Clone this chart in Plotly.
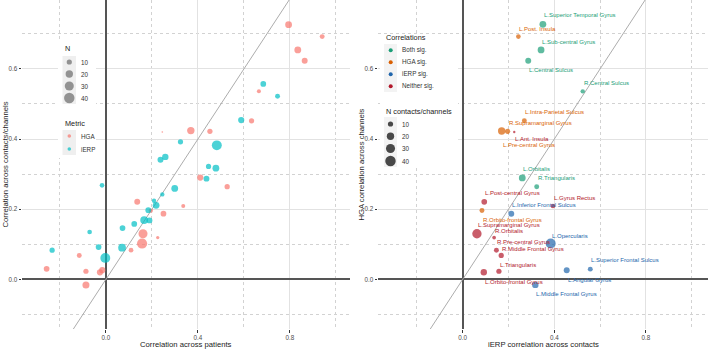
import numpy as np
import plotly.graph_objects as go

# ---------------- Data ----------------
# Left panel: correlation across patients (x) vs across contacts/channels (y)
hga_patients = [0.794, 0.94, 0.834, 0.864, 0.665, 0.633, 0.245, 0.369, 0.452, 0.41, 0.527, 0.136, 0.336,
                0.25, 0.195, 0.161, 0.157, 0.225, 0.109, -0.116, -0.258, -0.087, -0.026, -0.016, -0.087]
hga_contacts = [0.726, 0.692, 0.654, 0.623, 0.536, 0.452, 0.42, 0.424, 0.422, 0.29, 0.264, 0.221, 0.209,
                0.187, 0.196, 0.13, 0.102, 0.119, 0.083, 0.068, 0.03, 0.023, 0.02, 0.026, -0.016]
hga_n = [17, 9, 17, 13, 6, 10, 1, 20, 10, 14, 10, 13, 6, 12, 7, 30, 38, 4, 8, 9, 12, 10, 14, 14, 18]

ierp_patients = [0.684, 0.746, 0.588, 0.324, 0.482, 0.237, 0.258, 0.446, 0.478, 0.437, -0.017, 0.299, 0.245,
                 0.209, 0.218, 0.184, 0.166, 0.189, 0.123, 0.072, -0.071, 0.07, -0.032, -0.234, -0.003]
ierp_contacts = [0.557, 0.522, 0.454, 0.392, 0.382, 0.341, 0.349, 0.322, 0.317, 0.287, 0.268, 0.259, 0.242,
                 0.224, 0.211, 0.197, 0.169, 0.168, 0.158, 0.146, 0.135, 0.09, 0.092, 0.083, 0.061]
ierp_n = [12, 9, 14, 10, 36, 13, 15, 10, 17, 13, 8, 17, 7, 7, 17, 12, 22, 13, 12, 12, 8, 22, 12, 10, 36]

# Right panel: per region
regions = ["L.Superior Temporal Gyrus", "L.Post. Insula", "L.Sub-central Gyrus", "L.Central Sulcus",
           "R.Central Sulcus", "L.Intra-Parietal Sulcus", "R.Supramarginal Gyrus", "L.Pre-central Gyrus",
           "L.Ant. Insula", "L.Orbitalis", "R.Triangularis", "L.Post-central Gyrus", "R.Orbito-frontal Gyrus",
           "L.Gyrus Rectus", "L.Inferior Frontal Sulcus", "L.Supramarginal Gyrus", "R.Orbitalis",
           "L.Opercularis", "R.Pre-central Gyrus", "R.Middle Frontal Gyrus", "L.Triangularis",
           "L.Orbito-frontal Gyrus", "L.Angular Gyrus", "L.Superior Frontal Sulcus", "L.Middle Frontal Gyrus"]
region_ierp = [0.350, 0.243, 0.342, 0.286, 0.524, 0.269, 0.196, 0.170, 0.225, 0.260, 0.323, 0.094, 0.084,
               0.394, 0.212, 0.062, 0.137, 0.384, 0.147, 0.168, 0.158, 0.092, 0.454, 0.557, 0.317]
region_hga = [0.727, 0.692, 0.654, 0.623, 0.536, 0.452, 0.422, 0.423, 0.420, 0.289, 0.264, 0.221, 0.196,
              0.209, 0.187, 0.130, 0.119, 0.102, 0.083, 0.068, 0.023, 0.020, 0.026, 0.029, -0.016]
region_n = [17, 8, 17, 13, 7, 9, 10, 20, 2, 17, 9, 12, 9, 8, 13, 32, 5, 37, 9, 10, 10, 15, 13, 9, 15]
region_sig = ["Both sig.", "HGA sig.", "Both sig.", "Both sig.", "Both sig.", "HGA sig.", "HGA sig.",
              "HGA sig.", "Neither sig.", "Both sig.", "Both sig.", "Neither sig.", "HGA sig.",
              "Neither sig.", "iERP sig.", "Neither sig.", "Neither sig.", "iERP sig.", "Neither sig.",
              "Neither sig.", "Neither sig.", "Neither sig.", "iERP sig.", "iERP sig.", "iERP sig."]
# vertical label offsets (px, positive = below point)
label_offset = [-9, -8, -8, 9.4, -8, -8.3, -8.7, 14.4, 7, -8.7, -8.7, -8.7, 9.3, -8.3, -8.3, -8.4, -6.4,
                -8, -8.6, -6.6, -6.6, 9.7, 9.7, -8.7, 9.3]

sig_levels = ["Both sig.", "HGA sig.", "iERP sig.", "Neither sig."]
metric_levels = ["HGA", "iERP"]
legend_n = [10, 20, 30, 40]
x_ticks = [0.0, 0.4, 0.8]
y_ticks = [0.0, 0.2, 0.4, 0.6]

# ---------------- Style ----------------
W, H = 709, 349
FONT = "Liberation Sans, Arial, sans-serif"
sig_colors = {"Both sig.": "#1B9E77", "HGA sig.": "#D95F02", "iERP sig.": "#2166AC", "Neither sig.": "#B2182B"}
metric_colors = {"HGA": "#F8766D", "iERP": "#00BFC4"}


def size_px(n):
    return 1.65 * np.sqrt(np.asarray(n, dtype=float))


fig = go.Figure()

# identity lines
for xa, ya in (("x", "y"), ("x2", "y2")):
    fig.add_trace(go.Scatter(x=[-0.5, 1.2], y=[-0.5, 1.2], mode="lines", xaxis=xa, yaxis=ya,
                             line=dict(color="#A3A3A3", width=0.9), hoverinfo="skip", showlegend=False))

# left panel points
fig.add_trace(go.Scatter(x=hga_patients, y=hga_contacts, mode="markers", xaxis="x", yaxis="y",
                         marker=dict(size=size_px(hga_n), color=metric_colors["HGA"], opacity=0.7,
                                     line=dict(width=0)), showlegend=False))
fig.add_trace(go.Scatter(x=ierp_patients, y=ierp_contacts, mode="markers", xaxis="x", yaxis="y",
                         marker=dict(size=size_px(ierp_n), color=metric_colors["iERP"], opacity=0.7,
                                     line=dict(width=0)), showlegend=False))

# right panel points
fig.add_trace(go.Scatter(x=region_ierp, y=region_hga, mode="markers", xaxis="x2", yaxis="y2",
                         marker=dict(size=size_px(region_n), color=[sig_colors[s] for s in region_sig],
                                     line=dict(width=0)), text=regions, showlegend=False))

annotations = []
for name, xv, yv, sg, off in zip(regions, region_ierp, region_hga, region_sig, label_offset):
    annotations.append(dict(x=xv, y=yv, xref="x2", yref="y2", text=name, showarrow=False,
                            xanchor="left", yanchor="middle", xshift=-1, yshift=-off,
                            font=dict(family=FONT, size=6, color=sig_colors[sg])))

# ---------------- manual legends (pixel overlay axis) ----------------
shapes = []


def rect(x0, y0, x1, y1, color):
    shapes.append(dict(type="rect", xref="x3", yref="y3", x0=x0, y0=y0, x1=x1, y1=y1,
                       fillcolor=color, line=dict(width=0), layer="between"))


def text(x, y, s, size=6.3, color="#333333", anchor="left", angle=0):
    annotations.append(dict(x=x, y=y, xref="x3", yref="y3", text=s, showarrow=False, xanchor=anchor,
                            yanchor="middle", textangle=angle, font=dict(family=FONT, size=size, color=color)))


# left legend
rect(58, 42, 96, 158, "white")
rect(62.5, 56, 76, 104, "#EFEFEF")
rect(62.5, 130, 76, 155, "#EFEFEF")
text(62.5, 48, "N", size=7.3, color="#222222")
ly = [62, 74, 86, 98]
fig.add_trace(go.Scatter(x=[69.3] * 4, y=ly, mode="markers", xaxis="x3", yaxis="y3",
                         marker=dict(size=size_px(legend_n), color="#6B6B6B", line=dict(width=0)),
                         hoverinfo="skip", showlegend=False))
for yv, n in zip(ly, legend_n):
    text(79, yv, str(n))
text(62.5, 123, "Metric", size=7.3, color="#222222")
my = [136, 149]
fig.add_trace(go.Scatter(x=[69.3] * 2, y=my, mode="markers", xaxis="x3", yaxis="y3",
                         marker=dict(size=3.6, color=[metric_colors[m] for m in metric_levels], opacity=0.7,
                                     line=dict(width=0)), hoverinfo="skip", showlegend=False))
for yv, m in zip(my, metric_levels):
    text(79, yv, m)

# right legend
rect(380, 34, 458, 168, "white")
rect(384, 44, 397, 92, "#F3F3F3")
rect(384, 117, 397, 167, "#F3F3F3")
text(384, 37, "Correlations", size=7.3, color="#222222")
sy = [50.3, 62.2, 74.2, 86.2]
fig.add_trace(go.Scatter(x=[390.7] * 4, y=sy, mode="markers", xaxis="x3", yaxis="y3",
                         marker=dict(size=4, color=[sig_colors[s] for s in sig_levels], line=dict(width=0)),
                         hoverinfo="skip", showlegend=False))
for yv, s in zip(sy, sig_levels):
    text(400, yv, s)
text(384, 111.5, "N contacts/channels", size=7.3, color="#222222")
ny = [124, 136.3, 148.5, 161]
fig.add_trace(go.Scatter(x=[390.5] * 4, y=ny, mode="markers", xaxis="x3", yaxis="y3",
                         marker=dict(size=size_px(legend_n), color="black", line=dict(width=0)),
                         hoverinfo="skip", showlegend=False))
for yv, n in zip(ny, legend_n):
    text(400, yv, str(n))

# axis titles
text(5, 164.5, "Correlation across contacts/channels", size=7.7, color="#222222", anchor="center", angle=-90)
text(186, 344, "Correlation across patients", size=7.7, color="#222222", anchor="center")
text(361, 164.5, "HGA correlation across channels", size=7.7, color="#222222", anchor="center", angle=-90)
text(543, 344, "iERP correlation across contacts", size=7.7, color="#222222", anchor="center")

# ---------------- axes ----------------
common = dict(showgrid=True, gridcolor="#E2E2E2", gridwidth=0.8, zeroline=True, zerolinecolor="#555555",
              zerolinewidth=1.6, ticks="outside", ticklen=2.5, tickwidth=0.7, tickcolor="#333333",
              tickfont=dict(family=FONT, size=6.3, color="#4D4D4D"), showline=False, fixedrange=True)
xminor = dict(tickvals=[-0.2, 0.2, 0.6, 1.0], showgrid=True, griddash="3px,3px", gridcolor="#D2D2D2",
              gridwidth=0.7, ticks="")
yminor = dict(tickvals=[-0.1, 0.1, 0.3, 0.5, 0.7], showgrid=True, griddash="3px,3px", gridcolor="#D2D2D2",
              gridwidth=0.7, ticks="")
ydom = [20 / H, 1.0]
yr = [-0.1417, 0.7964]

fig.update_layout(
    width=W, height=H, margin=dict(l=0, r=0, t=0, b=0),
    paper_bgcolor="white", plot_bgcolor="rgba(0,0,0,0)",
    font=dict(family=FONT),
    xaxis=dict(domain=[22 / W, 350 / W], range=[-0.365, 1.061], anchor="y", tickvals=x_ticks,
               ticktext=[f"{v:.1f}" for v in x_ticks], minor=xminor, **common),
    yaxis=dict(domain=ydom, range=yr, anchor="x", tickvals=y_ticks,
               ticktext=[f"{v:.1f}" for v in y_ticks], minor=yminor, **common),
    xaxis2=dict(domain=[378 / W, 708 / W], range=[-0.370, 1.071], anchor="y2", tickvals=x_ticks,
                ticktext=[f"{v:.1f}" for v in x_ticks], minor=xminor, **common),
    yaxis2=dict(domain=ydom, range=yr, anchor="x2", tickvals=y_ticks,
                ticktext=[f"{v:.1f}" for v in y_ticks], minor=yminor, **common),
    xaxis3=dict(domain=[0, 1], range=[0, W], anchor="y3", visible=False, fixedrange=True),
    yaxis3=dict(domain=[0, 1], range=[H, 0], anchor="x3", visible=False, fixedrange=True),
    shapes=shapes, annotations=annotations, showlegend=False,
)

fig.write_html("out.html", config={"displayModeBar": False},
               post_script="document.body.style.margin='0px';document.body.style.overflow='hidden';")
